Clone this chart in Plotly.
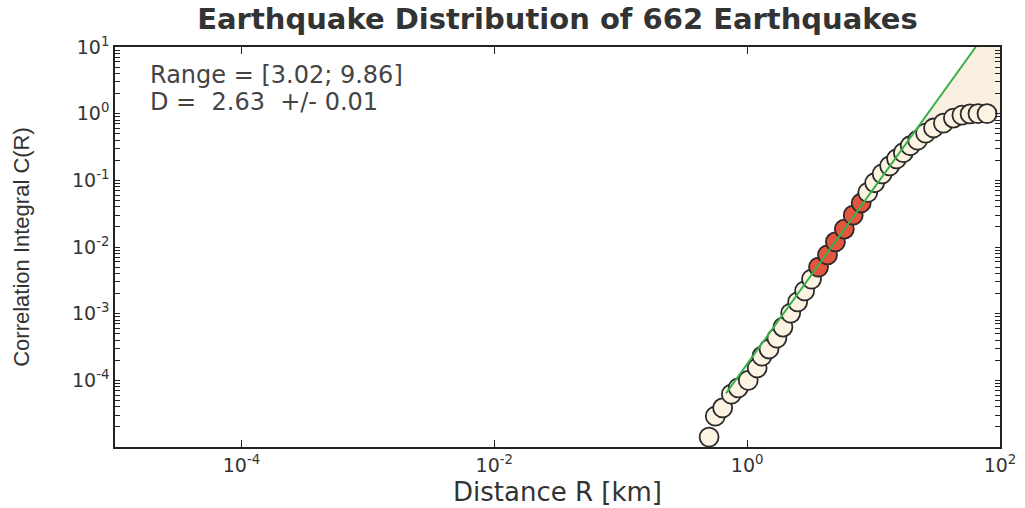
import numpy as np
import plotly.graph_objects as go

# Correlation integral C(R) against distance R for 662 earthquakes
distance_km = [0.50, 0.56, 0.64, 0.75, 0.85, 1.02, 1.20, 1.31, 1.49, 1.72,
               1.92, 2.21, 2.51, 2.85, 3.23, 3.67, 4.32, 4.99, 5.87, 6.90,
               7.98, 9.0, 10.2, 11.7, 13.4, 15.2, 17.2, 19.5, 22.3, 25.8,
               29.8, 35.7, 42.8, 50.0, 58.0, 67.0, 79.0]
corr_integral = [1.41e-5, 2.9e-5, 3.85e-5, 6.2e-5, 7.7e-5, 1.0e-4, 1.53e-4, 2.3e-4,
                 2.95e-4, 4.3e-4, 6.3e-4, 1.02e-3, 1.5e-3, 2.2e-3, 3.3e-3, 5.0e-3,
                 7.6e-3, 1.19e-2, 1.86e-2, 3.0e-2, 4.57e-2, 6.6e-2, 9.2e-2, 0.125,
                 0.165, 0.21, 0.26, 0.33, 0.40, 0.51, 0.61, 0.72, 0.86, 0.95,
                 0.99, 1.0, 1.0]
# points used for the power-law fit
in_fit = [False] * 15 + [True] * 6 + [False] * 16

fit_range = (3.02, 9.86)
dimension = 2.63
dimension_err = 0.01
n_quakes = 662

x_major = [1e-4, 1e-2, 1e0, 1e2]
x_major_exp = [-4, -2, 0, 2]
y_major = [1e-4, 1e-3, 1e-2, 1e-1, 1e0, 1e1]
y_major_exp = [-4, -3, -2, -1, 0, 1]

# fit line C = A * R^D, anchored on the fitted points
R = np.array(distance_km)
C = np.array(corr_integral)
mask = np.array(in_fit)
logA = np.mean(np.log10(C[mask]) - dimension * np.log10(R[mask]))
fit_R = np.logspace(np.log10(0.68), (1 - logA) / dimension, 60)
fit_C = 10 ** logA * fit_R ** dimension

x_lo, x_hi = 1e-5, 1e2
y_lo, y_hi = 1e-5, 1e1

fig = go.Figure()

# shaded gap between the fitted power law and the saturating data
split = 10.0
line_part = fit_R[fit_R >= split]
data_part = R >= split
poly_x = list(line_part) + [x_hi, x_hi] + list(R[data_part][::-1])
poly_y = list(10 ** logA * line_part ** dimension) + [y_hi, 1.0] + list(C[data_part][::-1])
fig.add_trace(go.Scatter(x=poly_x, y=poly_y, fill="toself", mode="none",
                         fillcolor="rgba(250,238,222,0.9)", hoverinfo="skip",
                         showlegend=False))

colors = ["#e5553d" if f else "#fcf3e3" for f in in_fit]
fig.add_trace(go.Scatter(x=distance_km, y=corr_integral, mode="markers",
                         marker=dict(size=19, color=colors, symbol="circle",
                                     line=dict(color="#2b2b2b", width=1.8)),
                         showlegend=False))

fig.add_trace(go.Scatter(x=fit_R, y=fit_C, mode="lines",
                         line=dict(color="#36b24a", width=2), showlegend=False))

# decade ticks plus unlabelled intermediate ticks on the C(R) axis
minor_vals = [m * 10.0 ** k for k in range(-5, 1) for m in range(2, 10)]
sup = lambda e: f"10<sup>{e}</sup>"
y_ticks = y_major + minor_vals
y_text = [sup(e) for e in y_major_exp] + [""] * len(minor_vals)

wide = "DejaVu Sans, Verdana, sans-serif"

fig.update_layout(
    width=1025, height=508,
    margin=dict(l=115, r=25, t=47, b=61, autoexpand=False),
    paper_bgcolor="white", plot_bgcolor="white",
    title=dict(text=f"<b>Earthquake Distribution of {n_quakes} Earthquakes</b>",
               x=(115 + 1000) / 2 / 1025, xanchor="center", y=0.962, yanchor="middle",
               font=dict(family=wide, size=29, color="#333")),
    xaxis=dict(type="log", range=[np.log10(x_lo), np.log10(x_hi)],
               tickvals=x_major, ticktext=[sup(e) for e in x_major_exp],
               ticks="inside", ticklen=7, tickcolor="#222",
               showline=True, linecolor="#222", linewidth=1.5, mirror="ticks",
               showgrid=False, zeroline=False, automargin=False,
               tickfont=dict(family=wide, size=19, color="#333"),
               title=dict(text="Distance R [km]", standoff=8,
                          font=dict(family=wide, size=26, color="#333"))),
    yaxis=dict(type="log", range=[np.log10(y_lo), np.log10(y_hi)],
               tickvals=y_ticks, ticktext=y_text,
               ticks="inside", ticklen=5, tickcolor="#222",
               showline=True, linecolor="#222", linewidth=1.5, mirror="ticks",
               showgrid=False, zeroline=False, automargin=False,
               tickfont=dict(family=wide, size=19, color="#333"),
               title=dict(text="Correlation Integral C(R)", standoff=36,
                          font=dict(family="Liberation Sans, Arial, sans-serif",
                                    size=22, color="#333"))),
)

nb = "\u00a0"
fig.add_annotation(xref="x domain", yref="y domain", x=0.037, y=0.93,
                   xanchor="left", yanchor="middle", showarrow=False,
                   text=f"Range = [{fit_range[0]:.2f}; {fit_range[1]:.2f}]",
                   font=dict(family=wide, size=24, color="#444"))
fig.add_annotation(xref="x domain", yref="y domain", x=0.037, y=0.862,
                   xanchor="left", yanchor="middle", showarrow=False,
                   text=f"D ={nb}{nb}{dimension:.2f}{nb}{nb}+/-{nb}{dimension_err:.2f}",
                   font=dict(family=wide, size=24, color="#444"))

fig.write_html("out.html")
